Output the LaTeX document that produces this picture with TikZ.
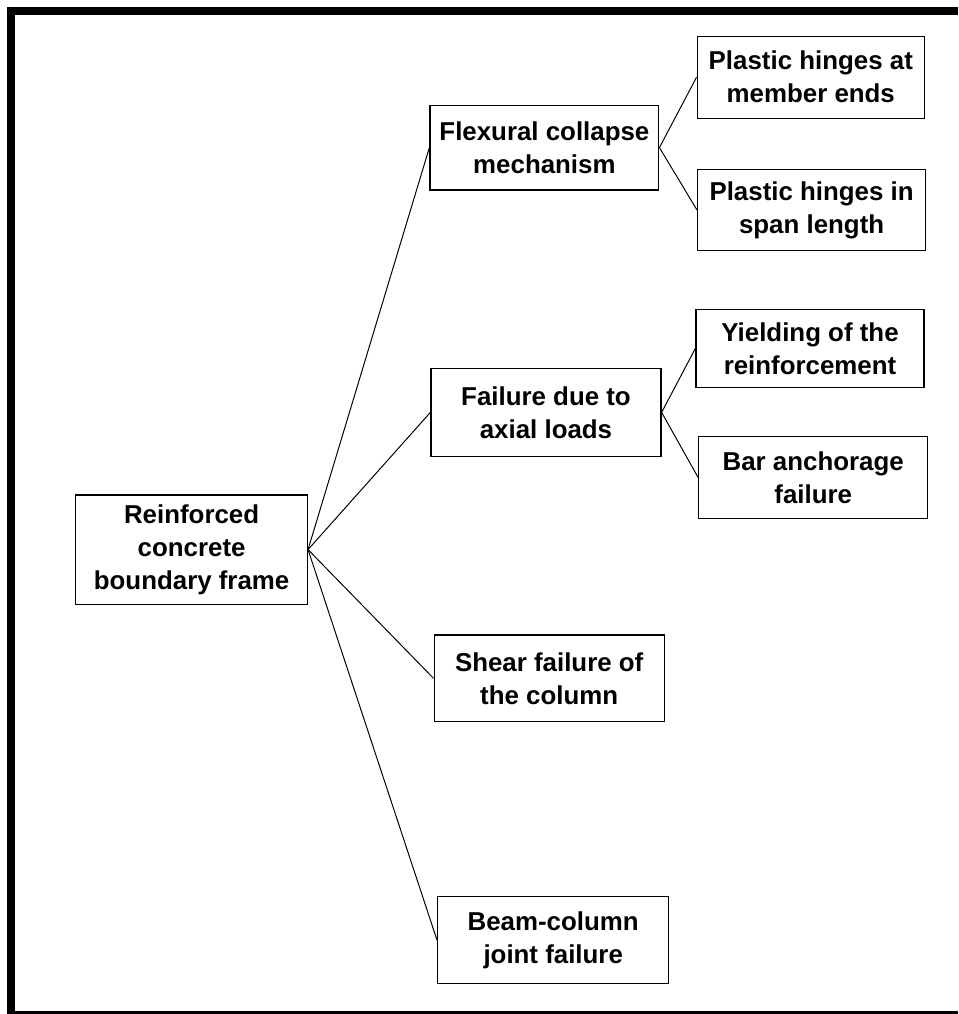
\documentclass[tikz,border=0pt]{standalone}
\usepackage{fontspec}
\setmainfont{Liberation Sans}
\usepackage{tikz}
\usetikzlibrary{calc}

\tikzset{
    box/.style={draw, line width=0.9pt, align=center, inner sep=0pt,
        font=\bfseries\fontsize{18.4}{23.5}\selectfont},
    link/.style={line width=0.7pt}
}

\begin{document}
\begin{tikzpicture}
    \useasboundingbox (0,0) rectangle (23.95,25.35);
    %BINGKAI
    \fill (0.18,0) rectangle (0.38,25.17);
    \fill (0.18,24.975) rectangle (23.95,25.17);
    \fill (0.18,0) rectangle (23.95,0.075);
    %AKAR
    \node[box, minimum width=5.79cm, minimum height=2.73cm] (root) at (4.79,11.61) {Reinforced\\concrete\\boundary frame};
    %CABANG
    \node[box, minimum width=5.72cm, minimum height=2.12cm] (flex) at (13.61,21.66) {Flexural collapse\\mechanism};
    \node[box, minimum width=5.75cm, minimum height=2.2cm] (fail) at (13.65,15.04) {Failure due to\\axial loads};
    \node[box, minimum width=5.75cm, minimum height=2.17cm] (shear) at (13.73,8.39) {Shear failure of\\the column};
    \node[box, minimum width=5.78cm, minimum height=2.17cm] (beam) at (13.83,1.85) {Beam-column\\joint failure};
    %DAUN
    \node[box, minimum width=5.68cm, minimum height=2.05cm] (ends) at (20.27,23.42) {Plastic hinges at\\member ends};
    \node[box, minimum width=5.7cm, minimum height=2.03cm] (span) at (20.29,20.1) {Plastic hinges in\\span length};
    \node[box, minimum width=5.7cm, minimum height=1.95cm] (yield) at (20.25,16.64) {Yielding of the\\reinforcement};
    \node[box, minimum width=5.72cm, minimum height=2.05cm] (bar) at (20.33,13.41) {Bar anchorage\\failure};
    %GARIS
    \foreach \n in {flex,fail,shear,beam}
        \draw[link] (root.east) -- (\n.west);
    \draw[link] (flex.east) -- (ends.west);
    \draw[link] (flex.east) -- (span.west);
    \draw[link] (fail.east) -- (yield.west);
    \draw[link] (fail.east) -- (bar.west);
\end{tikzpicture}
\end{document}
